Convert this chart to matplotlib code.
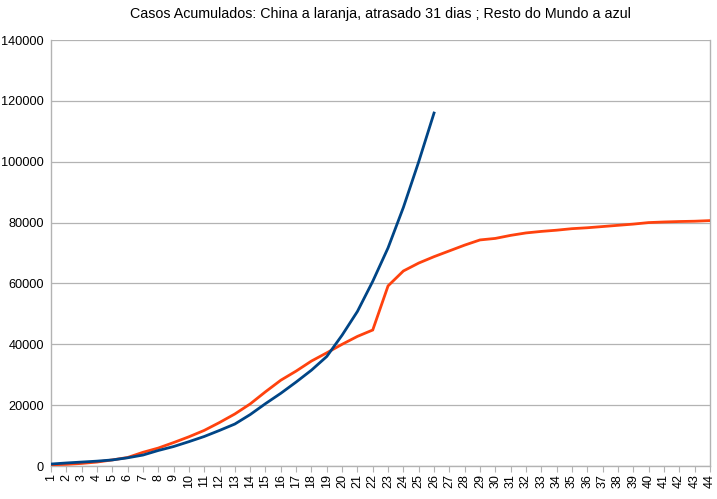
import numpy as np
import matplotlib
matplotlib.use("Agg")
import matplotlib.pyplot as plt

# days (category axis)
days = list(range(1, 45))

# China cumulative cases, shifted 31 days (orange)
china = [400, 550, 850, 1300, 2000, 2800, 4500, 5900, 7700, 9600,
         11700, 14300, 17100, 20400, 24400, 28200, 31200, 34500, 37200, 40000,
         42600, 44700, 59200, 64100, 66700, 68800, 70700, 72600, 74300, 74800,
         75800, 76600, 77100, 77500, 78000, 78300, 78700, 79100, 79500, 80000,
         80200, 80350, 80450, 80650]

# rest of the world cumulative cases (blue)
world = [650, 1000, 1300, 1600, 2000, 2700, 3600, 5100, 6400, 8000,
         9700, 11700, 13800, 16900, 20500, 23900, 27600, 31500, 36000, 43000,
         50800, 60700, 71700, 85000, 100000, 116000]

plt.rcParams['font.family'] = ['Liberation Sans', 'DejaVu Sans']

fig = plt.figure(figsize=(7.17, 4.99), dpi=100)
ax = fig.add_axes([0.0711, 0.0661, 0.9189, 0.8537])

ax.plot(days, china, color="#ff420e", lw=2.0, solid_joinstyle="miter", zorder=3)
ax.plot(days[:len(world)], world, color="#004586", lw=2.0, zorder=4)

ax.set_xlim(1, 44)
ax.set_ylim(0, 140000)
ax.set_yticks(np.arange(0, 140001, 20000))
ax.set_xticks(days)
ax.set_xticklabels([str(d) for d in days], rotation=90)

ax.grid(axis="y", color="#b3b3b3", lw=0.9)
ax.set_axisbelow(True)
for s in ["left", "bottom", "right"]:
    ax.spines[s].set_color("#b3b3b3")
    ax.spines[s].set_linewidth(1.0)
ax.spines["top"].set_visible(False)

ax.tick_params(axis="x", length=4, color="#b3b3b3", labelsize=9, pad=2)
ax.tick_params(axis="y", length=0, labelsize=9.2, pad=5)

# title centred over the plot area, not the whole figure
fig.text(0.530, 0.985, "Casos Acumulados: China a laranja, atrasado 31 dias ; Resto do Mundo a azul",
         fontsize=10.3, ha="center", va="top")

fig.savefig("out.png", dpi=100)
